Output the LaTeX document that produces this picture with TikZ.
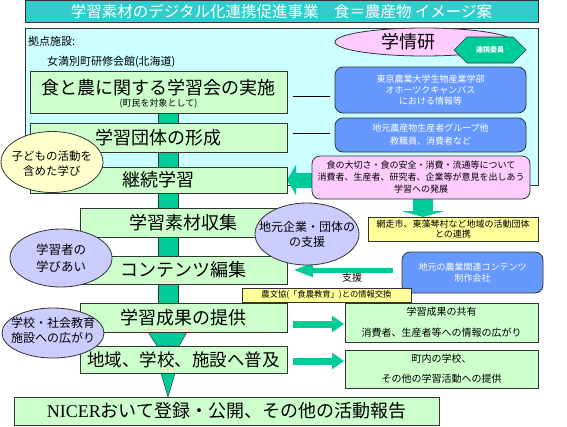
\documentclass[tikz,border=0pt]{standalone}
\usepackage{fontspec}
\setmainfont{Noto Sans CJK JP}
\newfontfamily\latinserif{Liberation Serif}
\usetikzlibrary{shapes.geometric,arrows.meta}
\pgfdeclarelayer{bg}
\pgfsetlayers{bg,main}
\definecolor{titlec}{HTML}{33CCCC}
\definecolor{panelc}{HTML}{CCFFFF}
\definecolor{greenc}{HTML}{CCFFCC}
\definecolor{tealc}{HTML}{00CC99}
\definecolor{bluec}{HTML}{6699FF}
\definecolor{pinkc}{HTML}{FFCCFF}
\definecolor{lavc}{HTML}{CCCCFF}
\definecolor{yelc}{HTML}{FFFF99}
\definecolor{creamc}{HTML}{FFFFCC}
\definecolor{edgec}{HTML}{333333}
\newcommand\myfs[2]{\fontsize{#1pt}{#2pt}\selectfont}
\begin{document}
\begin{tikzpicture}[x=1pt,y=-1pt,
 every node/.style={inner sep=0pt,outer sep=0pt},
 gbox/.style={draw=edgec,line width=0.8pt,fill=greenc},
 rbox/.style={draw=edgec,line width=0.8pt,rounded corners=8pt,fill=bluec,text=white,align=center},
 ell/.style={ellipse,draw=edgec,line width=0.8pt},
 tbar/.style={fill=tealc,draw=edgec,line width=0.5pt},
 blk/.style n args={3}{draw=tealc,line width=#1,-{Triangle[width=#2,length=#3]}},
 tline/.style={draw=black,line width=0.8pt},
]
\useasboundingbox (0,0) rectangle (567,426);
\begin{pgfonlayer}{bg}
\fill[white] (0,0) rectangle (567,426);
\node[draw=edgec,line width=0.8pt,fill=panelc,minimum width=513pt,minimum height=157pt] (panel) at (281.5,106.5) {};
\end{pgfonlayer}

\node[fill=titlec,draw=edgec,line width=0.8pt,minimum width=513pt,minimum height=22pt,text=white,font=\myfs{15.5}{16}] (title) at (281.5,11.8) {学習素材のデジタル化連携促進事業　食＝農産物 イメージ案};

\node[anchor=west,font=\myfs{11}{12}] (kyoten) at (28,41) {拠点施設:};
\node[anchor=west,font=\myfs{11}{12}] (site) at (47,62) {女満別町研修会館(北海道)};

% main flow boxes
\node[gbox,minimum width=257pt,minimum height=42pt] (b1) at (158.5,92) {};
\node[font=\myfs{18}{18}] (b1t) at (158.5,88) {食と農に関する学習会の実施};
\node[font=\myfs{9}{9}] (b1s) at (158.5,104) {(町民を対象として)};
\node[gbox,minimum width=257pt,minimum height=29pt,font=\myfs{18}{18}] (b2) at (158.5,137.5) {学習団体の形成};
\node[gbox,minimum width=257pt,minimum height=26pt,font=\myfs{18}{18}] (b3) at (158.5,180) {継続学習};
\node[gbox,minimum width=207pt,minimum height=29pt,font=\myfs{18}{18}] (b4) at (183.5,222.5) {学習素材収集};
\node[gbox,minimum width=207pt,minimum height=28pt,font=\myfs{18}{18}] (b5) at (183.5,270) {コンテンツ編集};
\node[gbox,minimum width=207pt,minimum height=29pt,font=\myfs{18}{18}] (b6) at (183.5,317.5) {学習成果の提供};
\node[gbox,minimum width=207pt,minimum height=27pt,font=\myfs{17.5}{18}] (b7) at (183.5,359.5) {地域、学校、施設へ普及};
\node[gbox,minimum width=425pt,minimum height=28pt,font=\myfs{18}{18}] (b8) at (226.5,411) {{\latinserif NICER}おいて登録・公開、その他の活動報告};

% right side
\node[ell,fill=pinkc,minimum width=178pt,minimum height=28pt] (gakujo) at (424,42) {};
\node[font=\myfs{18}{18}] (gakujot) at (408,42) {学情研};
\filldraw[fill=tealc,draw=edgec,line width=0.6pt] (454,50) -- (467,37) -- (513,37) -- (526,50) -- (513,63) -- (467,63) -- cycle;
\node[text=white,font=\bfseries\myfs{7}{7}] (badge) at (490,50) {連携委員};

\node[rbox,minimum width=191pt,minimum height=46pt,font=\myfs{9}{11}] (blue1) at (430.5,90) {東京農業大学生物産業学部\\オホーツクキャンパス\\における情報等};
\node[rbox,minimum width=191pt,minimum height=34pt,font=\myfs{9}{13}] (blue2) at (430.5,135) {地元農産物生産者グループ他\\教職員、消費者など};
\node[draw=edgec,line width=0.8pt,rounded corners=8pt,fill=pinkc,align=center,minimum width=218pt,minimum height=43pt,font=\myfs{9}{12}] (pink) at (421,177.5) {食の大切さ・食の安全・消費・流通等について\\消費者、生産者、研究者、企業等が意見を出しあう\\学習への発展};
\node[draw=edgec,line width=0.8pt,fill=yelc,align=center,minimum width=170pt,minimum height=24pt,font=\myfs{9}{10.5}] (yel1) at (453,229) {網走市、東藻琴村など地域の活動団体\\との連携};
\node[rbox,minimum width=141pt,minimum height=41pt,font=\myfs{9}{11}] (blue3) at (472.5,272.5) {地元の農業関連コンテンツ\\制作会社};
\node[draw=edgec,line width=0.8pt,fill=yelc,minimum width=169pt,minimum height=14pt,font=\myfs{8.3}{9}] (yel2) at (326.5,295) {農文協(「食農教育」)との情報交換};
\node[gbox,align=center,minimum width=193pt,minimum height=39pt,font=\myfs{10}{21}] (gr1) at (441.5,322.5) {学習成果の共有\\消費者、生産者等への情報の広がり};
\node[gbox,align=center,minimum width=193pt,minimum height=38pt,font=\myfs{10}{20}] (gr2) at (441.5,369) {町内の学校、\\その他の学習活動への提供};
\node[font=\myfs{10}{10}] (shien) at (352,278) {支援};

% ellipses
\node[ell,fill=creamc,minimum width=102pt,minimum height=61pt] (e1) at (52,162) {};
\node[align=center,font=\myfs{11.5}{15}] (e1t) at (52,164) {子どもの活動を\\含めた学び};
\node[ell,fill=lavc,minimum width=102pt,minimum height=58pt] (e2) at (61,258) {};
\node[align=center,font=\myfs{12.5}{17}] (e2t) at (61,258) {学習者の\\学びあい};
\node[ell,fill=lavc,minimum width=102pt,minimum height=50pt] (e3) at (53,333) {};
\node[align=center,font=\myfs{12}{15}] (e3t) at (53,330) {学校・社会教育\\施設への広がり};
\node[ell,fill=lavc,minimum width=104pt,minimum height=62pt] (e4) at (307,234) {};
\node[align=center,font=\myfs{12}{15}] (e4t) at (307,234) {地元企業・団体の\\の支援};

% connectors behind nodes
\begin{pgfonlayer}{bg}
\filldraw[tbar] (158,0 |- b1.south) rectangle (178,0 |- b6.north);
\filldraw[tbar] (148,0 |- b6.south) -- (187,0 |- b6.south) -- (179,0 |- b7.north) -- (157,0 |- b7.north) -- cycle;
\filldraw[tbar] (161,0 |- b7.south) -- (175,0 |- b7.south) -- (168,0 |- b8.north) -- cycle;
\draw[blk={15pt}{30pt}{9pt}] (b3.east -| pink.west) -- (b3.east);
\draw[blk={20pt}{43pt}{6pt}] (423,0 |- pink.south) -- (423,0 |- yel1.north);
\draw[blk={7pt}{16pt}{12pt},shorten <=6pt,shorten >=1pt] (b6.east |- 0,324) -- (gr1.west |- 0,324);
\draw[blk={7pt}{16pt}{12pt},shorten <=6pt,shorten >=1pt] (b7.east |- 0,361) -- (gr2.west |- 0,361);
\draw[blk={5pt}{13pt}{20pt},shorten <=9pt,shorten >=6pt] (blue3.west |- 0,270) -- (b5.east |- 0,270);
\draw[tline,shorten <=6pt,shorten >=5pt] (b1.east |- 0,96) -- (blue1.west |- 0,96);
\draw[tline,shorten <=6pt,shorten >=5pt] (b2.east |- 0,133) -- (blue2.west |- 0,133);
\end{pgfonlayer}
\end{tikzpicture}
\end{document}
